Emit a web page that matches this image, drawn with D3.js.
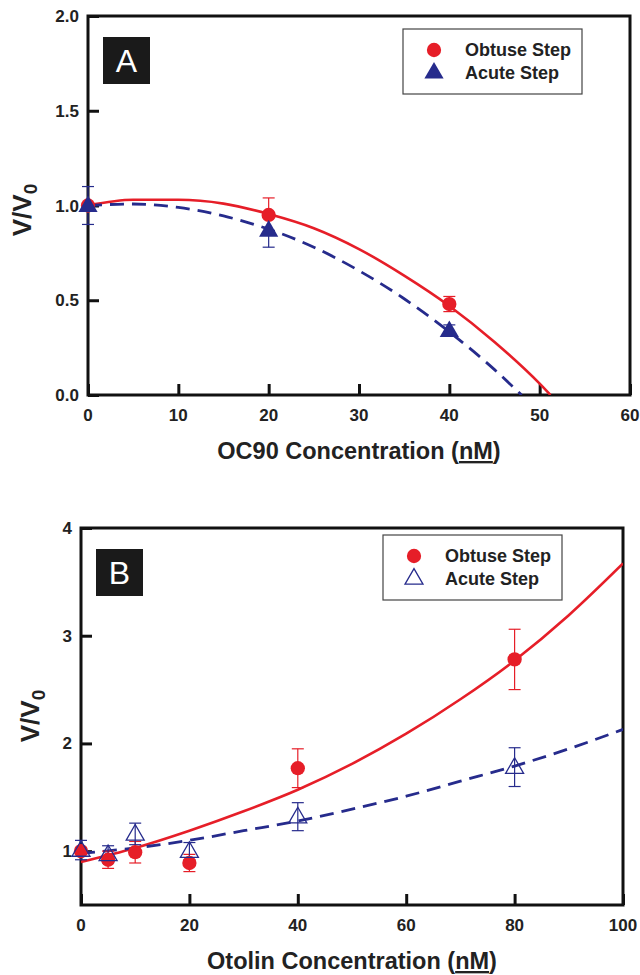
<!DOCTYPE html>
<html>
<head>
<meta charset="utf-8">
<script src="https://cdn.jsdelivr.net/npm/d3@7"></script>
<style>
  body { margin: 0; background: #fff; }
  svg text { font-family: "Liberation Sans", Arial, sans-serif; }
</style>
</head>
<body>
<div id="chart"></div>
<script>
// panel A: OC90
const aTicksX = [0, 10, 20, 30, 40, 50, 60];
const aTicksY = [0.0, 0.5, 1.0, 1.5, 2.0];
const aObtuseX = [0, 20, 40];
const aObtuseY = [1.00, 0.95, 0.48];
const aObtuseErr = [0.00, 0.09, 0.04];
const aAcuteX = [0, 20, 40];
const aAcuteY = [1.00, 0.87, 0.34];
const aAcuteErr = [0.10, 0.09, 0.03];
const aObtuseFitX = [0, 5, 10, 15, 20, 25, 30, 35, 40, 45, 50, 51.2];
const aObtuseFitY = [1.00, 1.03, 1.03, 1.01, 0.955, 0.88, 0.77, 0.63, 0.47, 0.28, 0.06, 0.0];
const aAcuteFitX = [0, 5, 10, 15, 20, 25, 30, 35, 40, 45, 48];
const aAcuteFitY = [1.00, 1.008, 0.99, 0.945, 0.875, 0.78, 0.656, 0.508, 0.333, 0.134, 0.0];

// panel B: Otolin
const bTicksX = [0, 20, 40, 60, 80, 100];
const bTicksY = [1, 2, 3, 4];
const bObtuseX = [0, 5, 10, 20, 40, 80];
const bObtuseY = [1.00, 0.92, 0.99, 0.89, 1.77, 2.78];
const bObtuseErr = [0.03, 0.08, 0.10, 0.08, 0.18, 0.28];
const bAcuteX = [0, 5, 10, 20, 40, 80];
const bAcuteY = [1.01, 0.97, 1.16, 1.00, 1.32, 1.78];
const bAcuteErr = [0.09, 0.08, 0.10, 0.08, 0.13, 0.18];
const bObtuseFitX = [0, 10, 20, 30, 40, 50, 60, 70, 80, 90, 100];
const bObtuseFitY = [0.90, 1.03, 1.19, 1.37, 1.57, 1.81, 2.09, 2.41, 2.77, 3.19, 3.67];
const bAcuteFitX = [0, 10, 20, 30, 40, 50, 60, 70, 80, 90, 100];
const bAcuteFitY = [0.98, 1.03, 1.10, 1.19, 1.28, 1.39, 1.51, 1.65, 1.79, 1.95, 2.13];

const legendLabels = ['Obtuse Step', 'Acute Step'];

const red = '#e61e28';
const blue = '#262b8c';

const svg = d3.select('#chart')
              .append('svg')
              .attr('width', 640)
              .attr('height', 975);

svg.append('defs').append('clipPath').attr('id', 'clipA')
   .append('rect').attr('x', 88).attr('y', 16).attr('width', 542).attr('height', 379);
svg.select('defs').append('clipPath').attr('id', 'clipB')
   .append('rect').attr('x', 81).attr('y', 528).attr('width', 542).attr('height', 377);

function drawPanel(p) {
    const g = svg.append('g');
    const x = d3.scaleLinear().domain(p.xDomain).range([p.left, p.right]);
    const y = d3.scaleLinear().domain(p.yDomain).range([p.bottom, p.top]);

    // inward ticks
    const xAxis = d3.axisTop(x).tickValues(p.ticksX).tickSize(11).tickFormat('');
    g.append('g').attr('transform', `translate(0,${p.bottom})`).call(xAxis)
     .call(s => s.select('.domain').remove())
     .selectAll('line').attr('stroke', '#111').attr('stroke-width', 3);
    const yAxis = d3.axisRight(y).tickValues(p.ticksY).tickSize(11).tickFormat('');
    g.append('g').attr('transform', `translate(${p.left},0)`).call(yAxis)
     .call(s => s.select('.domain').remove())
     .selectAll('line').attr('stroke', '#111').attr('stroke-width', 3);

    // tick labels
    g.selectAll('.xl').data(p.ticksX).enter().append('text')
     .attr('x', d => x(d)).attr('y', p.bottom + 26)
     .attr('text-anchor', 'middle').attr('font-size', 17).attr('font-weight', 'bold')
     .attr('fill', '#222').text(p.fmtX);
    g.selectAll('.yl').data(p.ticksY).enter().append('text')
     .attr('x', p.left - 9).attr('y', d => y(d) + 6)
     .attr('text-anchor', 'end').attr('font-size', 17).attr('font-weight', 'bold')
     .attr('fill', '#222').text(p.fmtY);

    // frame
    g.append('rect')
     .attr('x', p.left).attr('y', p.top)
     .attr('width', p.right - p.left).attr('height', p.bottom - p.top)
     .attr('fill', 'none').attr('stroke', '#111').attr('stroke-width', 3);

    // fit curves
    const line = d3.line().x(d => x(d[0])).y(d => y(d[1])).curve(d3.curveMonotoneX);
    g.append('path')
     .datum(d3.zip(p.fitObtuseX, p.fitObtuseY))
     .attr('d', line).attr('fill', 'none').attr('stroke', red).attr('stroke-width', 2.6)
     .attr('clip-path', `url(#${p.clip})`);
    g.append('path')
     .datum(d3.zip(p.fitAcuteX, p.fitAcuteY))
     .attr('d', line).attr('fill', 'none').attr('stroke', blue).attr('stroke-width', 2.8)
     .attr('stroke-dasharray', '14,8')
     .attr('clip-path', `url(#${p.clip})`);

    // error bars
    function errBars(xs, ys, es, color) {
        const eg = g.append('g').attr('stroke', color).attr('stroke-width', 1.2);
        xs.forEach((xv, i) => {
            if (es[i] <= 0) return;
            const cx = x(xv), y1 = y(ys[i] + es[i]), y2 = y(ys[i] - es[i]);
            eg.append('line').attr('x1', cx).attr('x2', cx).attr('y1', y1).attr('y2', y2);
            eg.append('line').attr('x1', cx - 6).attr('x2', cx + 6).attr('y1', y1).attr('y2', y1);
            eg.append('line').attr('x1', cx - 6).attr('x2', cx + 6).attr('y1', y2).attr('y2', y2);
        });
    }
    errBars(p.obtuseX, p.obtuseY, p.obtuseErr, red);
    errBars(p.acuteX, p.acuteY, p.acuteErr, blue);

    const circ = d3.symbol().type(d3.symbolCircle).size(160);
    const tri = d3.symbol().type(d3.symbolTriangle).size(p.triFilled ? 160 : 140);

    g.selectAll('.ob').data(d3.zip(p.obtuseX, p.obtuseY)).enter().append('path')
     .attr('d', circ).attr('transform', d => `translate(${x(d[0])},${y(d[1])})`)
     .attr('fill', red);
    g.selectAll('.ac').data(d3.zip(p.acuteX, p.acuteY)).enter().append('path')
     .attr('d', tri).attr('transform', d => `translate(${x(d[0])},${y(d[1]) + 1})`)
     .attr('fill', p.triFilled ? blue : 'none')
     .attr('stroke', blue).attr('stroke-width', p.triFilled ? 0 : 1.3);

    // panel letter
    g.append('rect').attr('x', p.left + 15).attr('y', p.top + 21)
     .attr('width', 47).attr('height', 47).attr('fill', '#1a1a1a');
    g.append('text').attr('x', p.left + 38.5).attr('y', p.top + 56)
     .attr('text-anchor', 'middle').attr('font-size', 32).attr('fill', '#fff')
     .text(p.letter);

    // legend
    const lg = g.append('g');
    lg.append('rect').attr('x', p.legX).attr('y', p.legY)
      .attr('width', 179).attr('height', 65)
      .attr('fill', '#fff').attr('stroke', '#444').attr('stroke-width', 1.2);
    lg.append('path').attr('d', circ)
      .attr('transform', `translate(${p.legX + 31},${p.legY + 21})`).attr('fill', red);
    lg.append('path').attr('d', tri)
      .attr('transform', `translate(${p.legX + 31},${p.legY + 44})`)
      .attr('fill', p.triFilled ? blue : 'none').attr('stroke', blue)
      .attr('stroke-width', p.triFilled ? 0 : 1.3);
    lg.selectAll('.lt').data(legendLabels).enter().append('text')
      .attr('x', p.legX + 62).attr('y', (d, i) => p.legY + 27 + i * 23)
      .attr('font-size', 18).attr('font-weight', 'bold').attr('fill', '#222')
      .text(d => d);

    // axis titles
    const xt = g.append('text').attr('x', (p.left + p.right) / 2).attr('y', p.bottom + 64)
     .attr('text-anchor', 'middle').attr('font-size', 23.5).attr('font-weight', 'bold')
     .attr('fill', '#222');
    xt.append('tspan').text(p.xTitle + ' (');
    xt.append('tspan').attr('text-decoration', 'underline').text('nM');
    xt.append('tspan').text(')');

    const yt = g.append('text')
     .attr('transform', `translate(${p.yTitleX},${p.yTitleY}) rotate(-90)`)
     .attr('text-anchor', 'middle').attr('font-size', 26).attr('font-weight', 'bold')
     .attr('fill', '#222');
    yt.append('tspan').text('V/V');
    yt.append('tspan').attr('font-size', 19).attr('dy', 6).text('0');
}

drawPanel({
    left: 88, right: 630, top: 16, bottom: 395,
    xDomain: [0, 60], yDomain: [0, 2],
    ticksX: aTicksX, ticksY: aTicksY,
    fmtX: d3.format('d'), fmtY: d3.format('.1f'),
    obtuseX: aObtuseX, obtuseY: aObtuseY, obtuseErr: aObtuseErr,
    acuteX: aAcuteX, acuteY: aAcuteY, acuteErr: aAcuteErr,
    fitObtuseX: aObtuseFitX, fitObtuseY: aObtuseFitY,
    fitAcuteX: aAcuteFitX, fitAcuteY: aAcuteFitY,
    clip: 'clipA', triFilled: true, letter: 'A',
    legX: 403, legY: 29,
    xTitle: 'OC90 Concentration', yTitleX: 31, yTitleY: 210
});

drawPanel({
    left: 81, right: 623, top: 528, bottom: 905,
    xDomain: [0, 100], yDomain: [0.5, 4],
    ticksX: bTicksX, ticksY: bTicksY,
    fmtX: d3.format('d'), fmtY: d3.format('d'),
    obtuseX: bObtuseX, obtuseY: bObtuseY, obtuseErr: bObtuseErr,
    acuteX: bAcuteX, acuteY: bAcuteY, acuteErr: bAcuteErr,
    fitObtuseX: bObtuseFitX, fitObtuseY: bObtuseFitY,
    fitAcuteX: bAcuteFitX, fitAcuteY: bAcuteFitY,
    clip: 'clipB', triFilled: false, letter: 'B',
    legX: 383, legY: 535,
    xTitle: 'Otolin Concentration', yTitleX: 39, yTitleY: 716
});
</script>
</body>
</html>
